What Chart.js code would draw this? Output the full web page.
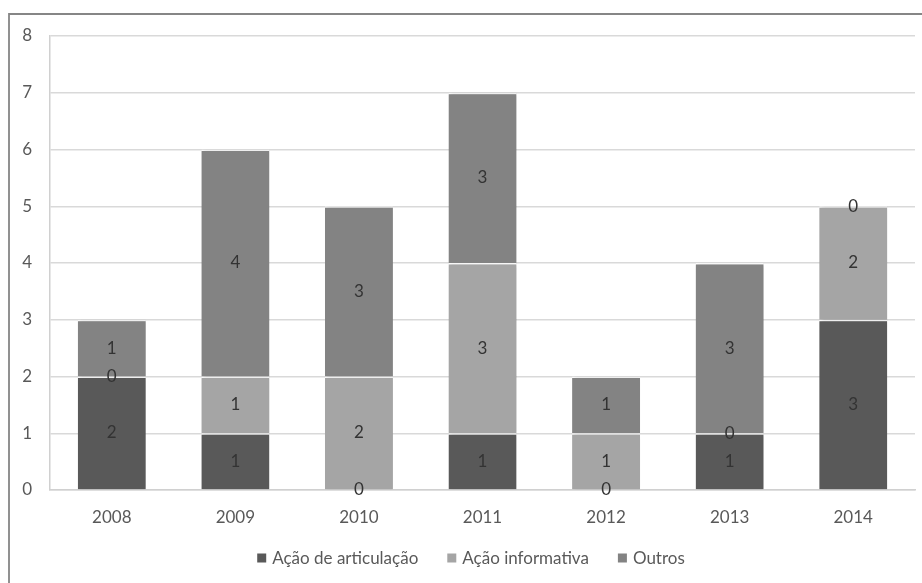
<!DOCTYPE html>
<html>
<head>
<meta charset="utf-8">
<script src="https://cdn.jsdelivr.net/npm/chart.js@4.4.1/dist/chart.umd.min.js"></script>
<style>
  html, body { margin: 0; padding: 0; background: #fff; }
  #wrap { position: relative; width: 922px; height: 583px; }
</style>
</head>
<body>
<div id="wrap"><canvas id="c" width="922" height="583"></canvas></div>
<script>
const categories = ['2008', '2009', '2010', '2011', '2012', '2013', '2014'];
const seriesNames = ['Ação de articulação', 'Ação informativa', 'Outros'];
const articulacao = [2, 1, 0, 1, 0, 1, 3];
const informativa = [0, 1, 2, 3, 1, 0, 2];
const outros = [1, 4, 3, 3, 1, 3, 0];
const yTicks = [0, 1, 2, 3, 4, 5, 6, 7, 8];

const colors = ['#595959', '#a5a5a5', '#838383'];
const FONT = 'Lato, "Open Sans", sans-serif';
const FS = 17;

const frame = {
  id: 'frame',
  beforeDraw(chart) {
    const ctx = chart.ctx;
    ctx.save();
    ctx.fillStyle = '#fff';
    ctx.fillRect(0, 0, chart.width, chart.height);
    ctx.strokeStyle = '#868686';
    ctx.lineWidth = 1.8;
    ctx.beginPath();
    ctx.moveTo(9, chart.height);
    ctx.lineTo(9, 14);
    ctx.lineTo(chart.width, 14);
    ctx.stroke();
    ctx.restore();
  },
  beforeDatasetsDraw(chart) {
    const ctx = chart.ctx;
    ctx.save();
    ctx.shadowColor = 'rgba(0,0,0,0.28)';
    ctx.shadowBlur = 4;
    ctx.shadowOffsetX = 1.5;
    ctx.shadowOffsetY = 1;
  },
  afterDatasetsDraw(chart) {
    const ctx = chart.ctx;
    ctx.restore();
    ctx.save();
    ctx.font = FS + 'px ' + FONT;
    ctx.fillStyle = '#333333';
    ctx.textAlign = 'center';
    ctx.textBaseline = 'middle';
    chart.data.datasets.forEach((ds, i) => {
      const meta = chart.getDatasetMeta(i);
      meta.data.forEach((el, j) => {
        const y = (el.y + el.base) / 2;
        ctx.fillText(String(ds.data[j]), el.x, y);
      });
    });
    ctx.restore();
  },
  afterDraw(chart) {
    // legend
    const ctx = chart.ctx;
    ctx.save();
    ctx.font = FS + 'px ' + FONT;
    ctx.textBaseline = 'middle';
    ctx.textAlign = 'left';
    const box = 9, gapText = 6, gapItem = 29, cy = 558;
    const items = chart.data.datasets.map(d => ({ label: d.label, color: d.backgroundColor, w: box + gapText + ctx.measureText(d.label).width }));
    const total = items.reduce((a, it) => a + it.w, 0) + gapItem * (items.length - 1);
    let x = 471 - total / 2;
    items.forEach(it => {
      ctx.fillStyle = it.color;
      ctx.fillRect(x, cy - box / 2, box, box);
      ctx.fillStyle = '#595959';
      ctx.fillText(it.label, x + box + gapText, cy + 1);
      x += it.w + gapItem;
    });
    ctx.restore();
  }
};

new Chart(document.getElementById('c'), {
  type: 'bar',
  data: {
    labels: categories,
    datasets: [
      { label: seriesNames[0], data: articulacao, backgroundColor: colors[0] },
      { label: seriesNames[1], data: informativa, backgroundColor: colors[1] },
      { label: seriesNames[2], data: outros, backgroundColor: colors[2] }
    ].map(d => Object.assign(d, {
      borderColor: '#ffffff',
      borderWidth: { top: 1.5, bottom: 0, left: 0, right: 0 },
      borderSkipped: false,
      categoryPercentage: 1,
      barPercentage: 0.55
    }))
  },
  options: {
    responsive: false,
    animation: false,
    devicePixelRatio: 1,
    layout: { padding: { left: 0, right: 7, top: 36, bottom: 48 } },
    scales: {
      x: {
        stacked: true,
        grid: { display: false, drawTicks: false },
        border: { display: true, color: '#d0d0d0', width: 1.5 },
        ticks: { color: '#595959', font: { family: FONT, size: FS }, padding: 17 },
        afterFit(s) { s.height = 45; }
      },
      y: {
        stacked: true,
        min: 0, max: 8,
        afterBuildTicks(s) { s.ticks = yTicks.map(v => ({ value: v })); },
        grid: { color: '#d9d9d9', lineWidth: 1.5, drawTicks: false },
        border: { display: true, color: '#d0d0d0', width: 1.5 },
        ticks: { color: '#595959', font: { family: FONT, size: FS }, padding: 18 },
        afterFit(s) { s.width = 50; }
      }
    },
    plugins: {
      legend: { display: false },
      tooltip: { enabled: false }
    }
  },
  plugins: [frame]
});
</script>
</body>
</html>
